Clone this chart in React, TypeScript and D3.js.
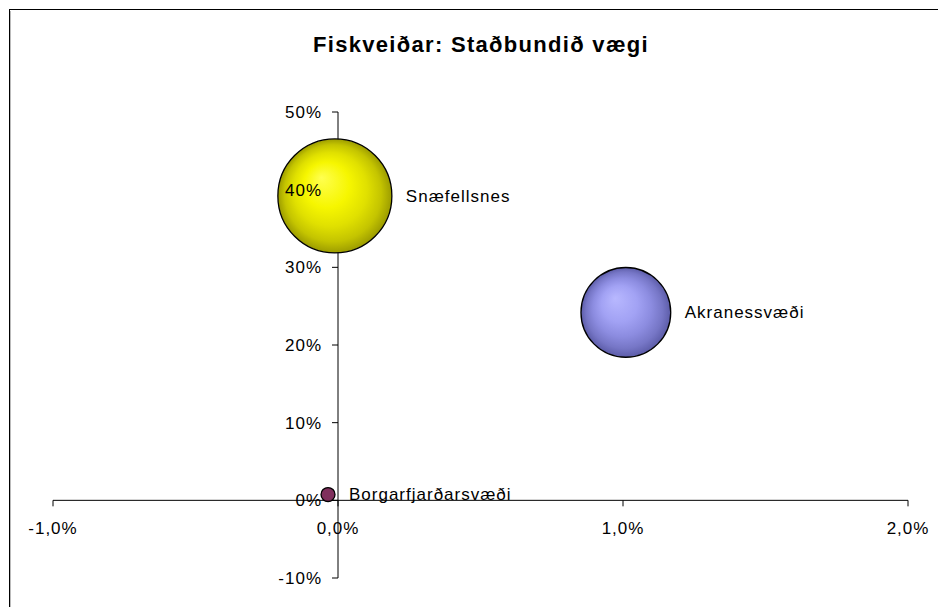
import React from "react";
import * as d3 from "d3";

// values (x = %, y = %, size = relative bubble weight)
const regions = ["Snæfellsnes", "Akranessvæði", "Borgarfjarðarsvæði"];
const xValues = [-0.011, 1.01, -0.035];
const yValues = [39.2, 24.2, 0.75];
const sizes = [100, 62, 1.5];
const xTicks = [-1, 0, 1, 2];
const yTicks = [-10, 0, 10, 20, 30, 40, 50];

const title = "Fiskveiðar: Staðbundið vægi";

const fills = [
    { id: "grad-yellow", stops: ["#ffff50", "#f6f600", "#e0e000", "#c4c400", "#9c9c00"] },
    { id: "grad-blue", stops: ["#b8b8ff", "#a2a2f4", "#8c8ce0", "#7676c6", "#5c5ca8"] },
    { id: null, stops: ["#7f2f5c"] }
];
const stopOffsets = ["0%", "40%", "65%", "85%", "100%"];

const layout = {
    width: 938,
    height: 607
};

const App = () => {
    const xScale = d3.scaleLinear().domain([-1, 2]).range([53, 908]);
    const yScale = d3.scaleLinear().domain([-10, 50]).range([578, 112]);
    const rScale = d3.scaleSqrt().domain([0, 100]).range([0, 57]);

    const fmtX = v => d3.format(".1f")(v).replace("−", "-").replace(".", ",") + "%";
    const fmtY = v => v + "%";

    const x0 = xScale(0);
    const y0 = yScale(0);
    const font = "'Liberation Sans', Arial, sans-serif";
    const fs = 17;
    const spacing = 1;

    return (
        <svg
            width={layout.width}
            height={layout.height}
            style={{ position: "absolute", left: 0, top: 0, background: "#fff" }}
            fontFamily={font}
        >
            <defs>
                {fills
                    .filter(f => f.id)
                    .map(f => (
                        <radialGradient key={f.id} id={f.id} cx="0.5" cy="0.5" r="0.5" fx="0.38" fy="0.34">
                            {f.stops.map((c, k) => (
                                <stop key={k} offset={stopOffsets[k]} stopColor={c} />
                            ))}
                        </radialGradient>
                    ))}
            </defs>

            {/* chart frame, only top and left are inside the picture */}
            <rect x={9.5} y={9.5} width={1000} height={1000} fill="none" stroke="#000" strokeWidth={1} />
            <line x1={10.5} y1={11} x2={10.5} y2={607} stroke="#bbb" />

            <text x={481} y={52} textAnchor="middle" fontWeight="bold" fontSize={22} letterSpacing={1.3}>
                {title}
            </text>

            {/* y axis */}
            <line x1={x0} y1={yScale(50)} x2={x0} y2={yScale(-10)} stroke="#000" />
            {yTicks.map(t => (
                <g key={t}>
                    <line x1={x0 - 6} y1={yScale(t)} x2={x0} y2={yScale(t)} stroke="#000" />
                    <text x={x0 - 16} y={yScale(t)} dy="0.35em" textAnchor="end" fontSize={fs} letterSpacing={spacing}>
                        {fmtY(t)}
                    </text>
                </g>
            ))}

            {/* x axis */}
            <line x1={xScale(-1)} y1={y0} x2={xScale(2)} y2={y0} stroke="#000" />
            {xTicks.map(t => (
                <g key={t}>
                    <line x1={xScale(t)} y1={y0} x2={xScale(t)} y2={y0 + 6} stroke="#000" />
                    <text x={xScale(t)} y={y0 + 28} dy="0.35em" textAnchor="middle" fontSize={fs} letterSpacing={spacing}>
                        {fmtX(t)}
                    </text>
                </g>
            ))}

            {/* bubbles */}
            {regions.map((name, i) => {
                const cx = xScale(xValues[i]);
                const cy = yScale(yValues[i]);
                const r = rScale(sizes[i]);
                const f = fills[i];
                return (
                    <circle
                        key={name}
                        cx={cx}
                        cy={cy}
                        r={r}
                        fill={f.id ? `url(#${f.id})` : f.stops[0]}
                        stroke="#000"
                        strokeWidth={1.3}
                    />
                );
            })}

            {/* labels drawn on top */}
            {regions.map((name, i) => {
                const cx = xScale(xValues[i]);
                const cy = yScale(yValues[i]);
                const r = rScale(sizes[i]);
                return (
                    <text key={name} x={cx + r + 14} y={cy} dy="0.35em" fontSize={fs} letterSpacing={spacing}>
                        {name}
                    </text>
                );
            })}
            {/* the 40% tick label sits over the yellow bubble in the original */}
            <text x={x0 - 16} y={yScale(40)} dy="0.35em" textAnchor="end" fontSize={fs} letterSpacing={spacing}>
                {fmtY(40)}
            </text>
        </svg>
    );
};

export default App;
